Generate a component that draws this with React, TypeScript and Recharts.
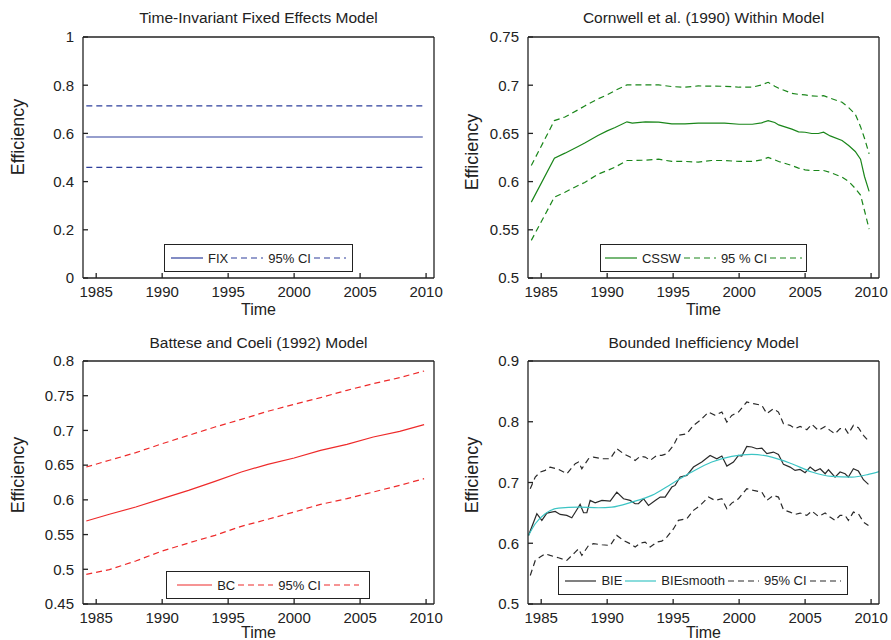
import React from 'react';
import { LineChart, Line, XAxis, YAxis, Legend } from 'recharts';

// shared x ticks
const yearTicks = [1985, 1990, 1995, 2000, 2005, 2010];

// Time-invariant fixed effects
const fixTime = [1984.25, 2009.75];
const fixEff = [0.585, 0.585];
const fixUpper = [0.714, 0.714];
const fixLower = [0.459, 0.459];
const fixTicks = [0, 0.2, 0.4, 0.6, 0.8, 1];

// Cornwell et al. (1990)
const csswTime = [
  1984.25, 1986.0, 1986.8, 1987.8, 1988.3, 1989.3, 1990.0, 1990.6, 1991.5, 1991.9,
  1992.9, 1993.9, 1994.9, 1995.9, 1996.9, 1997.9, 1998.9, 2000.0, 2001.0, 2001.7,
  2002.2, 2002.7, 2003.0, 2004.0, 2004.5, 2005.0, 2005.5, 2006.0, 2006.4, 2006.9,
  2007.8, 2008.3, 2008.8, 2009.2, 2009.5, 2009.85,
];
const csswEff = [
  0.5787, 0.6243, 0.6295, 0.6364, 0.64, 0.6478, 0.6526, 0.6561, 0.662, 0.6606,
  0.662, 0.6616, 0.6599, 0.6599, 0.6606, 0.6606, 0.6606, 0.6595, 0.6595, 0.6609,
  0.6633, 0.6613, 0.6588, 0.6544, 0.6516, 0.6512, 0.6499, 0.6499, 0.6512, 0.6474,
  0.6426, 0.6374, 0.6312, 0.6233, 0.6053, 0.5898,
];
const csswUpper = [
  0.6167, 0.6633, 0.667, 0.6745, 0.6785, 0.6858, 0.69, 0.6945, 0.7003, 0.7003,
  0.7003, 0.7003, 0.6986, 0.6979, 0.6992, 0.699, 0.6989, 0.6979, 0.6979, 0.7003,
  0.703, 0.699, 0.6968, 0.6916, 0.6905, 0.6899, 0.689, 0.6885, 0.6892, 0.6865,
  0.6823, 0.6768, 0.67, 0.657, 0.645, 0.6288,
];
const csswLower = [
  0.539, 0.5839, 0.589, 0.596, 0.5991, 0.6077, 0.6115, 0.615, 0.6219, 0.6219,
  0.6222, 0.6233, 0.6209, 0.6209, 0.6202, 0.6219, 0.6219, 0.6209, 0.6209, 0.6226,
  0.625, 0.6225, 0.6209, 0.6167, 0.614, 0.6122, 0.6115, 0.6115, 0.6115, 0.6095,
  0.6046, 0.6001, 0.593, 0.586, 0.57, 0.5508,
];
const csswTicks = [0.5, 0.55, 0.6, 0.65, 0.7, 0.75];

// Battese and Coeli (1992)
const bcTime = [1984.25, 1986, 1988, 1990, 1992, 1994, 1996, 1998, 2000, 2002, 2004, 2006, 2008, 2009.85];
const bcEff = [0.5695, 0.5792, 0.5897, 0.6017, 0.6137, 0.6267, 0.6401, 0.6512, 0.6603, 0.6713, 0.68, 0.6905, 0.6987, 0.7083];
const bcUpper = [0.6473, 0.657, 0.668, 0.6809, 0.6929, 0.7049, 0.716, 0.7275, 0.7376, 0.7472, 0.7578, 0.7674, 0.776, 0.7856];
const bcLower = [0.4927, 0.4995, 0.512, 0.5263, 0.5379, 0.5489, 0.5619, 0.572, 0.5825, 0.5935, 0.6017, 0.6113, 0.6209, 0.6305];
const bcTicks = [0.45, 0.5, 0.55, 0.6, 0.65, 0.7, 0.75, 0.8];

// Bounded inefficiency
const bieTime = [
  1984.04, 1984.67, 1985.05, 1985.43, 1986.06, 1986.44, 1986.94, 1987.32, 1987.7, 1987.95,
  1988.21, 1988.46, 1988.71, 1989.09, 1989.6, 1990.23, 1990.73, 1991.24, 1991.74, 1992.12,
  1992.37, 1992.75, 1993.13, 1993.64, 1994.02, 1994.39, 1994.9, 1995.15, 1995.53, 1996.04,
  1996.54, 1997.17, 1997.8, 1998.31, 1998.69, 1999.07, 1999.57, 1999.95, 2000.2, 2000.58,
  2000.96, 2001.34, 2001.72, 2002.1, 2002.6, 2002.98, 2003.36, 2003.86, 2004.24, 2004.62,
  2005.0, 2005.38, 2005.76, 2006.14, 2006.52, 2006.77, 2007.27, 2007.65, 2008.03, 2008.28,
  2008.66, 2009.04, 2009.42, 2009.8,
];
const bieEff = [
  0.6129, 0.6486, 0.6376, 0.6497, 0.6524, 0.6475, 0.6458, 0.642, 0.6551, 0.6639,
  0.6502, 0.6502, 0.6705, 0.6667, 0.6705, 0.6694, 0.6842, 0.6733, 0.6705, 0.665,
  0.665, 0.6733, 0.6623, 0.6705, 0.676, 0.676, 0.6925, 0.6952, 0.709, 0.7117,
  0.7254, 0.7337, 0.7446, 0.7391, 0.7435, 0.7271, 0.7337, 0.7446, 0.7435, 0.7595,
  0.7584, 0.7556, 0.7567, 0.7474, 0.7501, 0.7463, 0.7298, 0.7254, 0.7199, 0.7216,
  0.7161, 0.7254, 0.7188, 0.7227, 0.7144, 0.721, 0.7089, 0.7172, 0.7144, 0.7089,
  0.7227, 0.7188, 0.7046, 0.6969,
];
const smoothTime = [
  1984.04, 1984.55, 1985.3, 1986.31, 1987.83, 1989.34, 1990.35, 1991.87, 1993.38, 1994.9,
  1996.41, 1997.93, 1999.44, 2000.96, 2002.47, 2003.99, 2005.51, 2007.02, 2008.54, 2009.8, 2010.6,
];
const smoothEff = [
  0.6129, 0.6321, 0.6486, 0.6579, 0.6595, 0.6584, 0.6595, 0.6678, 0.6788, 0.698,
  0.7172, 0.7337, 0.743, 0.7463, 0.7419, 0.7309, 0.7172, 0.71, 0.7089, 0.7133, 0.718,
];
const bieCiTime = [
  1984.17, 1984.55, 1984.92, 1985.3, 1985.68, 1986.31, 1986.94, 1987.58, 1987.83, 1988.08,
  1988.59, 1988.96, 1989.6, 1990.23, 1990.73, 1991.24, 1991.74, 1992.12, 1992.5, 1992.88,
  1993.26, 1993.76, 1994.14, 1994.52, 1995.03, 1995.4, 1996.04, 1996.54, 1997.05, 1997.68,
  1998.18, 1998.69, 1999.07, 1999.44, 1999.95, 2000.58, 2001.09, 2001.72, 2002.1, 2002.6,
  2002.98, 2003.36, 2003.86, 2004.24, 2004.62, 2005.13, 2005.51, 2006.01, 2006.52, 2006.89,
  2007.27, 2007.65, 2008.03, 2008.28, 2008.66, 2009.04, 2009.42, 2009.8,
];
const bieUpper = [
  0.6897, 0.709, 0.7172, 0.72, 0.7254, 0.7216, 0.7144, 0.7309, 0.7337, 0.7227,
  0.7391, 0.7419, 0.7391, 0.7391, 0.7556, 0.7474, 0.7419, 0.7364, 0.743, 0.7419,
  0.7364, 0.7446, 0.7446, 0.7474, 0.7611, 0.7776, 0.7803, 0.7941, 0.8023, 0.816,
  0.8105, 0.816, 0.7995, 0.8105, 0.816, 0.8325, 0.8297, 0.827, 0.8133, 0.8215,
  0.816, 0.7968, 0.7941, 0.7886, 0.7924, 0.7869, 0.7957, 0.7858, 0.7924, 0.7858,
  0.7803, 0.7886, 0.7886, 0.7803, 0.7941, 0.7902, 0.7776, 0.7683,
];
const bieLower = [
  0.547, 0.5717, 0.5772, 0.5827, 0.58, 0.5761, 0.5717, 0.5854, 0.5909, 0.58,
  0.5964, 0.5992, 0.5975, 0.5964, 0.6129, 0.6046, 0.5992, 0.5937, 0.6003, 0.6019,
  0.5937, 0.6019, 0.6035, 0.6101, 0.6239, 0.6376, 0.6403, 0.6541, 0.6623, 0.676,
  0.6705, 0.6733, 0.6568, 0.6661, 0.6733, 0.6897, 0.687, 0.6842, 0.6705, 0.6788,
  0.676, 0.6551, 0.6513, 0.6475, 0.6497, 0.6458, 0.653, 0.6442, 0.6497, 0.6431,
  0.6376, 0.6458, 0.6458, 0.6376, 0.6513, 0.6486, 0.6349, 0.6294,
];
const bieTicks = [0.5, 0.6, 0.7, 0.8, 0.9];

const FONT = '"Liberation Sans", Arial, Helvetica, sans-serif';
const AXIS = '#222';
const X_DOMAIN: [number, number] = [1984, 2010.6];

type Pt = { t: number; v: number };
const pair = (ts: number[], vs: number[]): Pt[] => ts.map((t, i) => ({ t, v: vs[i] }));

interface Series {
  key: string;
  data: Pt[];
  color: string;
  dashed?: boolean;
  smooth?: boolean;
}

interface LegendItem {
  label: string;
  color: string;
  dashed?: boolean;
}

interface PanelProps {
  left: number;
  top: number;
  height: number;
  marginTop: number;
  marginBottom: number;
  title: string;
  titleY: number;
  yLabelX: number;
  yLabelY: number;
  timeY: number;
  yDomain: [number, number];
  yTicks: number[];
  series: Series[];
  legend: LegendItem[];
  legendBox: { left: number; top: number; width: number; height: number };
  sampleW: number;
}

const WIDTH = 445;

function LegendBox({ items, sampleW }: { items: LegendItem[]; sampleW: number }) {
  return (
    <div
      style={{
        width: '100%',
        height: '100%',
        boxSizing: 'border-box',
        border: `1.3px solid ${AXIS}`,
        background: '#fff',
        display: 'flex',
        alignItems: 'center',
        justifyContent: 'center',
        fontFamily: FONT,
        fontSize: 13,
        color: '#222',
      }}
    >
      {items.map((it, i) => (
        <span key={i} style={{ display: 'flex', alignItems: 'center' }}>
          <svg width={sampleW} height={10}>
            <line
              x1={0}
              y1={5}
              x2={sampleW}
              y2={5}
              stroke={it.color}
              strokeWidth={1.2}
              strokeDasharray={it.dashed ? '6 4' : undefined}
            />
          </svg>
          {it.label ? <span style={{ margin: '0 3px 0 5px' }}>{it.label}</span> : null}
        </span>
      ))}
    </div>
  );
}

function Panel(p: PanelProps) {
  const tickStyle = { fontSize: 15, fill: '#222', fontFamily: FONT };
  const plotLeft = 83;
  const plotW = 351;
  return (
    <div style={{ position: 'absolute', left: p.left, top: p.top, width: WIDTH, height: p.height }}>
      <div
        style={{
          position: 'absolute',
          left: plotLeft,
          width: plotW,
          top: p.titleY - 10,
          height: 20,
          lineHeight: '20px',
          textAlign: 'center',
          fontFamily: FONT,
          fontSize: 15.5,
          color: '#222',
          whiteSpace: 'nowrap',
        }}
      >
        {p.title}
      </div>
      <LineChart
        width={WIDTH}
        height={p.height}
        margin={{ top: p.marginTop, right: 10, bottom: p.marginBottom, left: 23 }}
      >
        <XAxis
          dataKey="t"
          type="number"
          domain={X_DOMAIN}
          ticks={yearTicks}
          interval={0}
          allowDataOverflow
          height={30}
          tickSize={-5}
          tickMargin={13}
          stroke={AXIS}
          strokeWidth={1.3}
          tick={tickStyle}
        />
        <XAxis
          xAxisId="top"
          orientation="top"
          dataKey="t"
          type="number"
          domain={X_DOMAIN}
          ticks={yearTicks}
          interval={0}
          allowDataOverflow
          height={1}
          tickSize={-5}
          tick={false}
          stroke={AXIS}
          strokeWidth={1.3}
        />
        <YAxis
          type="number"
          domain={p.yDomain}
          ticks={p.yTicks}
          interval={0}
          allowDataOverflow
          width={60}
          tickSize={-5}
          tickMargin={14}
          stroke={AXIS}
          strokeWidth={1.3}
          tick={tickStyle}
        />
        <YAxis
          yAxisId="right"
          orientation="right"
          type="number"
          domain={p.yDomain}
          ticks={p.yTicks}
          interval={0}
          allowDataOverflow
          width={1}
          tickSize={-5}
          tick={false}
          stroke={AXIS}
          strokeWidth={1.3}
        />
        {p.series.map((s) => (
          <Line
            key={s.key}
            data={s.data}
            dataKey="v"
            name={s.key}
            type={s.smooth ? 'monotone' : 'linear'}
            stroke={s.color}
            strokeWidth={1.2}
            strokeDasharray={s.dashed ? '6 4' : undefined}
            dot={false}
            activeDot={false}
            isAnimationActive={false}
          />
        ))}
        <Legend
          layout="horizontal"
          verticalAlign="middle"
          align="center"
          wrapperStyle={{
            left: p.legendBox.left,
            top: p.legendBox.top,
            width: p.legendBox.width,
            height: p.legendBox.height,
          }}
          content={() => <LegendBox items={p.legend} sampleW={p.sampleW} />}
        />
      </LineChart>
      <div
        style={{
          position: 'absolute',
          left: p.yLabelX,
          top: p.yLabelY,
          transform: 'translate(-50%, -50%) rotate(-90deg)',
          fontFamily: FONT,
          fontSize: 18,
          color: '#222',
          whiteSpace: 'nowrap',
        }}
      >
        Efficiency
      </div>
      <div
        style={{
          position: 'absolute',
          left: plotLeft,
          width: plotW,
          top: p.timeY - 10,
          height: 20,
          lineHeight: '20px',
          textAlign: 'center',
          fontFamily: FONT,
          fontSize: 16,
          color: '#222',
        }}
      >
        Time
      </div>
    </div>
  );
}

const BLUE = '#2e3f9c';
const GREEN = '#1a861a';
const RED = '#ee2a2a';
const BLACK = '#2a2a2a';
const CYAN = '#3cc4c4';

export default function App() {
  return (
    <div style={{ position: 'absolute', left: 0, top: 0, width: 891, height: 640, background: '#fff', overflow: 'hidden' }}>
      <Panel
        left={0}
        top={0}
        height={310}
        marginTop={36}
        marginBottom={2}
        title="Time-Invariant Fixed Effects Model"
        titleY={18}
        yLabelX={18}
        yLabelY={137}
        timeY={310}
        yDomain={[0, 1]}
        yTicks={fixTicks}
        series={[
          { key: 'FIX', data: pair(fixTime, fixEff), color: BLUE },
          { key: 'ciUp', data: pair(fixTime, fixUpper), color: BLUE, dashed: true },
          { key: 'ciLo', data: pair(fixTime, fixLower), color: BLUE, dashed: true },
        ]}
        legend={[
          { label: 'FIX', color: BLUE },
          { label: '95% CI', color: BLUE, dashed: true },
          { label: '', color: BLUE, dashed: true },
        ]}
        legendBox={{ left: 164, top: 244, width: 189, height: 28 }}
        sampleW={32}
      />
      <Panel
        left={445}
        top={0}
        height={310}
        marginTop={36}
        marginBottom={2}
        title="Cornwell et al. (1990) Within Model"
        titleY={18}
        yLabelX={27}
        yLabelY={152}
        timeY={310}
        yDomain={[0.5, 0.75]}
        yTicks={csswTicks}
        series={[
          { key: 'CSSW', data: pair(csswTime, csswEff), color: GREEN },
          { key: 'ciUp', data: pair(csswTime, csswUpper), color: GREEN, dashed: true },
          { key: 'ciLo', data: pair(csswTime, csswLower), color: GREEN, dashed: true },
        ]}
        legend={[
          { label: 'CSSW', color: GREEN },
          { label: '95 % CI', color: GREEN, dashed: true },
          { label: '', color: GREEN, dashed: true },
        ]}
        legendBox={{ left: 155, top: 244, width: 207, height: 28 }}
        sampleW={32}
      />
      <Panel
        left={0}
        top={320}
        height={320}
        marginTop={40}
        marginBottom={6}
        title="Battese and Coeli (1992) Model"
        titleY={23}
        yLabelX={18}
        yLabelY={155}
        timeY={313}
        yDomain={[0.45, 0.8]}
        yTicks={bcTicks}
        series={[
          { key: 'BC', data: pair(bcTime, bcEff), color: RED },
          { key: 'ciUp', data: pair(bcTime, bcUpper), color: RED, dashed: true },
          { key: 'ciLo', data: pair(bcTime, bcLower), color: RED, dashed: true },
        ]}
        legend={[
          { label: 'BC', color: RED },
          { label: '95% CI', color: RED, dashed: true },
          { label: '', color: RED, dashed: true },
        ]}
        legendBox={{ left: 166, top: 251, width: 204, height: 28 }}
        sampleW={35}
      />
      <Panel
        left={445}
        top={320}
        height={320}
        marginTop={40}
        marginBottom={6}
        title="Bounded Inefficiency Model"
        titleY={23}
        yLabelX={27}
        yLabelY={155}
        timeY={313}
        yDomain={[0.5, 0.9]}
        yTicks={bieTicks}
        series={[
          { key: 'ciUp', data: pair(bieCiTime, bieUpper), color: BLACK, dashed: true },
          { key: 'ciLo', data: pair(bieCiTime, bieLower), color: BLACK, dashed: true },
          { key: 'BIE', data: pair(bieTime, bieEff), color: BLACK },
          { key: 'BIEsmooth', data: pair(smoothTime, smoothEff), color: CYAN, smooth: true },
        ]}
        legend={[
          { label: 'BIE', color: BLACK },
          { label: 'BIEsmooth', color: CYAN },
          { label: '95% CI', color: BLACK, dashed: true },
          { label: '', color: BLACK, dashed: true },
        ]}
        legendBox={{ left: 113, top: 246, width: 290, height: 29 }}
        sampleW={31}
      />
    </div>
  );
}
